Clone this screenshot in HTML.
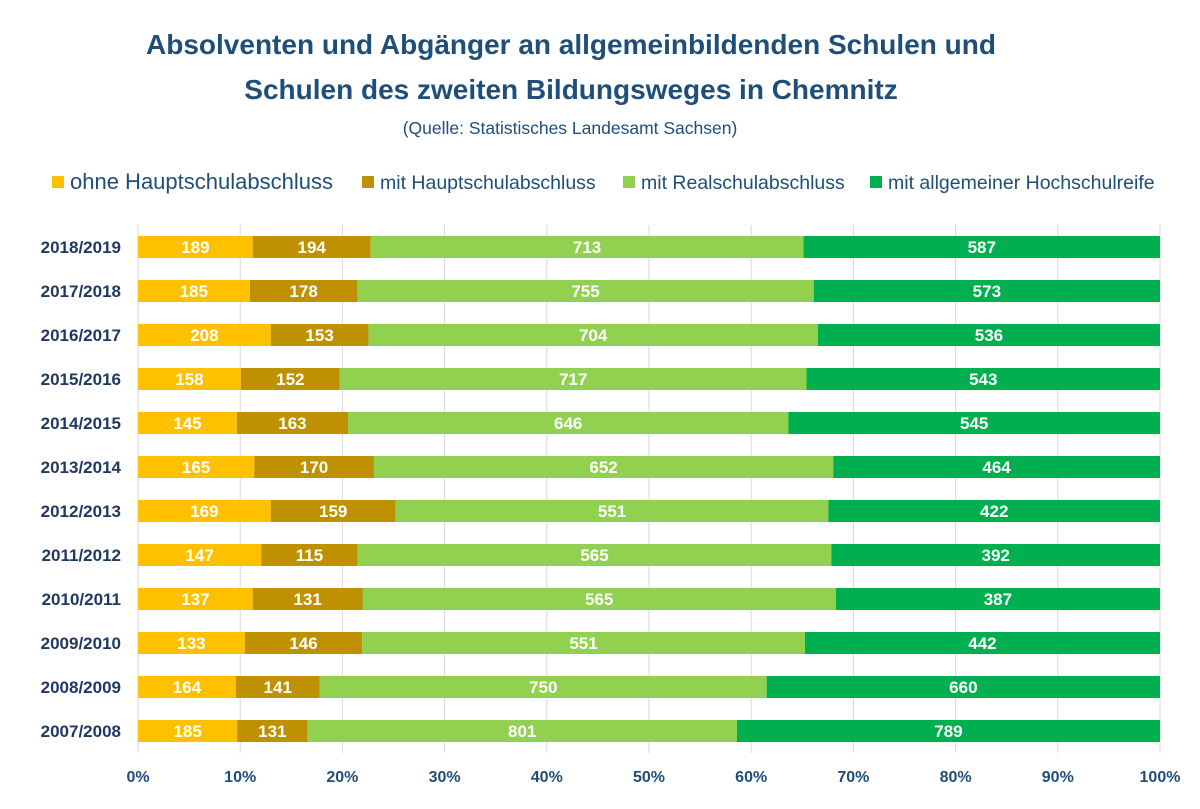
<!DOCTYPE html>
<html><head><meta charset="utf-8">
<style>
body{margin:0;background:#fff;width:1200px;height:804px;overflow:hidden;font-family:"Liberation Sans",sans-serif}
svg text{font-family:"Liberation Sans",sans-serif}
</style></head><body>
<svg id="chart" width="1200" height="804" xmlns="http://www.w3.org/2000/svg">
<text x="571" y="54" text-anchor="middle" font-size="28" font-weight="bold" fill="#1f4e79">Absolventen und Abgänger an allgemeinbildenden Schulen und</text>
<text x="571" y="99" text-anchor="middle" font-size="28" font-weight="bold" fill="#1f4e79">Schulen des zweiten Bildungsweges in Chemnitz</text>
<text x="570" y="134" text-anchor="middle" font-size="17.5" fill="#1f4e79">(Quelle: Statistisches Landesamt Sachsen)</text>
<g id="legend"></g>
<g id="grid"></g><g id="bars"></g><g id="axes"></g>
</svg>
<script>
const categories=["2018/2019","2017/2018","2016/2017","2015/2016","2014/2015","2013/2014","2012/2013","2011/2012","2010/2011","2009/2010","2008/2009","2007/2008"];
const ohne=[189,185,208,158,145,165,169,147,137,133,164,185];
const haupt=[194,178,153,152,163,170,159,115,131,146,141,131];
const real=[713,755,704,717,646,652,551,565,565,551,750,801];
const abi=[587,573,536,543,545,464,422,392,387,442,660,789];
const seriesNames=["ohne Hauptschulabschluss","mit Hauptschulabschluss","mit Realschulabschluss","mit allgemeiner Hochschulreife"];
const ticks=[0,10,20,30,40,50,60,70,80,90,100];
const colors=["#ffc000","#bf9000","#92d050","#00b050"];
const NS="http://www.w3.org/2000/svg";
const X0=138,X1=1160,Y0=247,STEP=44,BH=22;
const x=p=>X0+(X1-X0)*p/100;
const y=i=>Y0+i*STEP;
function mk(t,a,p){const e=document.createElementNS(NS,t);for(const k in a)e.setAttribute(k,a[k]);p.appendChild(e);return e;}
const grid=document.getElementById('grid'),bars=document.getElementById('bars'),axes=document.getElementById('axes'),legend=document.getElementById('legend');
ticks.forEach(t=>{
 const l=mk('line',{x1:x(t),x2:x(t),y1:225,y2:753,stroke:'#d9d9d9','stroke-width':1},grid);
 
 
 const tx=mk('text',{x:x(t),y:782,'text-anchor':'middle','font-size':16,'font-weight':'bold',fill:'#1f4e79'},axes);
 tx.textContent=t+'%';
 
 
});
const series=[ohne,haupt,real,abi];
categories.forEach((c,i)=>{
 const tot=ohne[i]+haupt[i]+real[i]+abi[i];
 let acc=0;
 const cl=mk('text',{x:121,y:y(i)+6,'text-anchor':'end','font-size':17,'font-weight':'bold',fill:'#1f3864'},axes);
 cl.textContent=c;
 
 
 series.forEach((s,j)=>{
  const p0=acc/tot*100; acc+=s[i]; const p1=acc/tot*100;
  const r=mk('rect',{x:x(p0),y:y(i)-BH/2,width:x(p1)-x(p0),height:BH,fill:colors[j]},bars);
  
  
  const t=mk('text',{x:(x(p0)+x(p1))/2,y:y(i)+6,'text-anchor':'middle','font-size':17,'font-weight':'bold',fill:'#fff'},bars);
  t.textContent=s[i];
  
  
 });
});
const lx=[52,362,623,870];
seriesNames.forEach((n,j)=>{
 const r=mk('rect',{x:lx[j],y:176,width:12,height:12,fill:colors[j]},legend);
 
 
 const t=mk('text',{x:lx[j]+18,y:189,'font-size':j==0?22:19.5,fill:'#1f4e79'},legend);
 t.textContent=n;
 
 
});
</script>
</body></html>
